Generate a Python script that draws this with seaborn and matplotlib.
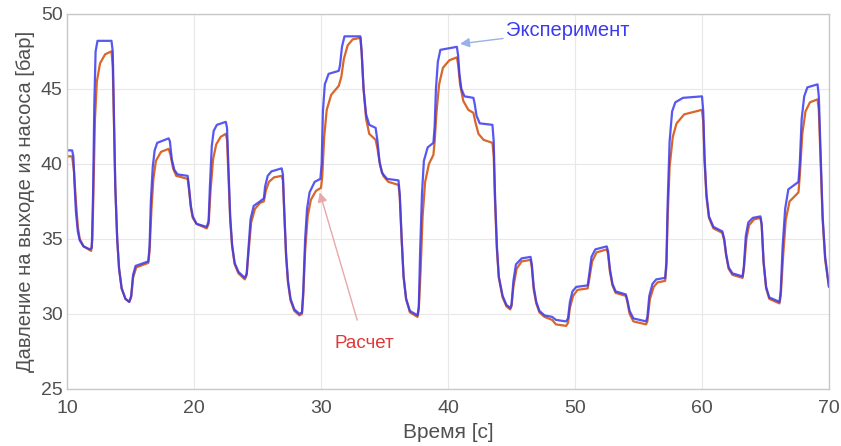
import pandas as pd
import matplotlib.pyplot as plt
import seaborn as sns

# Эксперимент (blue), breakpoints
exp_t = [10.0, 10.4, 10.5, 10.6, 10.7, 10.85, 11.0, 11.3, 11.8, 11.95, 12.05, 12.15, 12.25, 12.4, 13.5,
         13.6, 13.7, 13.8, 13.95, 14.1, 14.3, 14.6, 14.9, 15.05, 15.2, 15.4, 16.4, 16.5, 16.6, 16.75,
         16.9, 17.1, 18.0, 18.1, 18.25, 18.45, 18.7, 19.5, 19.6, 19.75, 19.9, 20.2, 21.0, 21.15, 21.25,
         21.4, 21.55, 21.8, 22.5, 22.6, 22.7, 22.85, 23.0, 23.2, 23.5, 24.0, 24.15, 24.3, 24.45, 24.7,
         25.2, 25.5, 25.6, 25.8, 26.1, 26.9, 27.0, 27.1, 27.25, 27.4, 27.6, 27.9, 28.3, 28.5, 28.6,
         28.75, 28.9, 29.1, 29.5, 29.95, 30.05, 30.15, 30.3, 30.6, 31.4, 31.5, 31.65, 31.85, 33.1,
         33.2, 33.35, 33.55, 33.8, 34.3, 34.45, 34.6, 34.8, 35.2, 36.1, 36.2, 36.35, 36.5, 36.7, 37.0,
         37.6, 37.7, 37.8, 37.95, 38.1, 38.4, 38.85, 38.95, 39.05, 39.2, 39.4, 40.7, 40.8, 40.9, 41.05,
         41.3, 42.0, 42.1, 42.25, 42.5, 43.5, 43.6, 43.7, 43.85, 44.0, 44.3, 44.6, 44.9, 45.0, 45.15,
         45.35, 45.8, 46.5, 46.6, 46.75, 46.95, 47.2, 47.6, 48.2, 48.5, 49.3, 49.45, 49.6, 49.8, 50.1,
         51.0, 51.1, 51.3, 51.6, 52.5, 52.6, 52.75, 52.95, 53.2, 54.0, 54.1, 54.3, 54.6, 55.6, 55.7,
         55.85, 56.1, 56.4, 57.1, 57.2, 57.3, 57.45, 57.65, 57.9, 58.5, 60.0, 60.1, 60.2, 60.35, 60.55,
         60.9, 61.6, 61.75, 61.9, 62.1, 62.4, 63.2, 63.3, 63.45, 63.65, 64.0, 64.6, 64.7, 64.85, 65.05,
         65.3, 66.1, 66.2, 66.35, 66.55, 66.8, 67.6, 67.7, 67.85, 68.05, 68.3, 69.1, 69.2, 69.35, 69.5,
         69.7, 70.0]
exp_p = [40.9, 40.9, 40.5, 38.5, 36.8, 35.5, 34.9, 34.5, 34.3, 34.4, 38.0, 44.0, 47.5, 48.2, 48.2,
         47.5, 43.0, 38.5, 35.0, 33.0, 31.7, 31.0, 30.8, 31.2, 32.6, 33.2, 33.5, 34.5, 37.5, 39.8,
         40.9, 41.4, 41.7, 41.5, 40.3, 39.6, 39.3, 39.2, 38.5, 37.2, 36.5, 36.0, 35.8, 36.2, 38.5,
         41.2, 42.2, 42.6, 42.8, 42.4, 40.0, 36.5, 34.6, 33.4, 32.8, 32.4, 32.7, 34.5, 36.3, 37.2,
         37.5, 37.7, 38.5, 39.2, 39.5, 39.7, 39.3, 37.0, 34.0, 32.2, 31.0, 30.3, 30.0, 30.1, 31.5,
         35.0, 37.0, 38.1, 38.8, 39.0, 40.0, 43.5, 45.3, 46.0, 46.2, 46.6, 47.8, 48.5, 48.5,
         47.5, 45.0, 43.3, 42.6, 42.4, 41.5, 40.2, 39.4, 39.0, 38.9, 38.0, 35.0, 32.5, 31.0, 30.2,
         29.9, 30.5, 34.0, 38.0, 40.2, 41.1, 41.4, 42.5, 45.0, 46.8, 47.6, 47.8, 47.2, 46.0, 45.0,
         44.5, 44.4, 44.0, 43.2, 42.7, 42.6, 41.5, 38.0, 34.5, 32.5, 31.2, 30.6, 30.4, 30.6, 32.2,
         33.3, 33.7, 33.8, 33.3, 31.8, 30.8, 30.2, 29.9, 29.8, 29.6, 29.5, 29.7, 30.8, 31.5, 31.8,
         31.9, 32.5, 33.8, 34.3, 34.5, 34.2, 33.0, 32.0, 31.5, 31.3, 31.0, 30.2, 29.7, 29.5, 29.8,
         31.2, 32.0, 32.3, 32.4, 33.5, 37.5, 41.5, 43.5, 44.1, 44.4, 44.5, 43.5, 40.5, 38.0, 36.5,
         35.8, 35.5, 35.0, 34.0, 33.1, 32.7, 32.5, 33.2, 35.2, 36.1, 36.4, 36.5, 36.0, 33.5, 31.8,
         31.1, 30.8, 31.5, 34.5, 37.0, 38.3, 38.8, 40.0, 43.0, 44.5, 45.1, 45.3, 44.5, 40.5, 36.5,
         33.8, 31.8]

# Расчет (red/orange)
calc_t = [10.0, 10.4, 10.55, 10.7, 10.85, 11.0, 11.3, 11.9, 12.0, 12.1, 12.2, 12.35, 12.6, 13.0, 13.5,
          13.6, 13.7, 13.8, 13.95, 14.1, 14.3, 14.6, 14.9, 15.05, 15.2, 15.45, 16.4, 16.5, 16.65, 16.8,
          17.0, 17.4, 18.0, 18.15, 18.35, 18.6, 19.5, 19.6, 19.75, 19.9, 20.2, 21.0, 21.15, 21.3, 21.5,
          21.75, 22.1, 22.5, 22.6, 22.7, 22.85, 23.0, 23.2, 23.5, 24.0, 24.15, 24.3, 24.5, 24.8, 25.2,
          25.5, 25.65, 25.9, 26.3, 26.9, 27.0, 27.1, 27.25, 27.4, 27.6, 27.9, 28.3, 28.5, 28.6, 28.75,
          28.95, 29.2, 29.6, 30.0, 30.1, 30.25, 30.45, 30.8, 31.4, 31.6, 31.8, 32.1, 32.5, 33.1, 33.2,
          33.35, 33.55, 33.8, 34.3, 34.45, 34.65, 34.9, 35.3, 36.1, 36.2, 36.35, 36.5, 36.7, 37.0, 37.6,
          37.7, 37.85, 38.0, 38.2, 38.5, 38.85, 38.95, 39.1, 39.3, 39.6, 40.1, 40.7, 40.8, 40.95, 41.2,
          41.6, 42.0, 42.15, 42.4, 42.8, 43.5, 43.6, 43.7, 43.85, 44.0, 44.3, 44.6, 44.9, 45.0, 45.15,
          45.4, 45.8, 46.5, 46.6, 46.75, 46.95, 47.2, 47.6, 48.2, 48.5, 49.3, 49.45, 49.6, 49.85, 50.2,
          51.0, 51.1, 51.35, 51.7, 52.5, 52.6, 52.75, 52.95, 53.2, 54.0, 54.1, 54.3, 54.6, 55.6, 55.7,
          55.9, 56.2, 56.5, 57.1, 57.2, 57.3, 57.45, 57.7, 58.0, 58.6, 60.0, 60.1, 60.2, 60.35, 60.55,
          60.9, 61.6, 61.75, 61.9, 62.1, 62.4, 63.2, 63.3, 63.5, 63.7, 64.1, 64.6, 64.7, 64.85, 65.05,
          65.3, 66.1, 66.2, 66.4, 66.6, 66.9, 67.6, 67.7, 67.9, 68.15, 68.5, 69.1, 69.2, 69.35, 69.5,
          69.7, 70.0]
calc_p = [40.5, 40.5, 39.5, 37.5, 35.8, 35.0, 34.5, 34.2, 35.0, 39.0, 43.0, 45.5, 46.7, 47.3, 47.5,
          46.5, 42.5, 38.5, 35.0, 33.0, 31.7, 31.0, 30.8, 31.1, 32.4, 33.1, 33.4, 34.2, 37.0, 39.0,
          40.2, 40.8, 41.0, 40.6, 39.7, 39.2, 39.0, 38.3, 37.1, 36.4, 36.0, 35.7, 36.0, 38.2, 40.3,
          41.3, 41.8, 42.0, 41.6, 39.5, 36.2, 34.5, 33.3, 32.7, 32.3, 32.6, 34.2, 36.1, 37.0, 37.4,
          37.5, 38.2, 38.8, 39.1, 39.2, 38.9, 36.8, 33.8, 32.1, 30.9, 30.2, 29.9, 30.0, 31.2, 34.2,
          36.5, 37.6, 38.2, 38.4, 39.2, 41.8, 43.6, 44.6, 45.2, 45.8, 47.0, 47.9, 48.3, 48.4, 47.4,
          45.0, 43.0, 42.0, 41.6, 41.0, 39.9, 39.2, 38.8, 38.6, 37.8, 35.0, 32.5, 31.0, 30.1, 29.8,
          30.3, 33.0, 36.5, 38.8, 40.0, 40.6, 41.5, 43.5, 45.3, 46.4, 46.9, 47.1, 46.6, 45.3, 44.2,
          43.6, 43.4, 42.8, 42.0, 41.6, 41.4, 40.5, 37.5, 34.3, 32.4, 31.1, 30.5, 30.3, 30.5, 31.8,
          33.0, 33.5, 33.6, 33.1, 31.6, 30.7, 30.1, 29.8, 29.6, 29.3, 29.2, 29.4, 30.4, 31.2, 31.6,
          31.7, 32.2, 33.5, 34.1, 34.3, 34.0, 32.8, 31.9, 31.4, 31.2, 30.9, 30.0, 29.5, 29.3, 29.5,
          31.0, 31.8, 32.1, 32.2, 33.2, 36.5, 39.8, 41.8, 42.7, 43.3, 43.6, 42.8, 40.2, 37.8, 36.4,
          35.7, 35.4, 34.9, 33.9, 33.0, 32.6, 32.4, 33.0, 35.0, 35.9, 36.3, 36.4, 35.9, 33.4, 31.7,
          31.0, 30.7, 31.2, 34.0, 36.3, 37.5, 38.1, 39.2, 42.0, 43.5, 44.1, 44.3, 43.6, 40.0, 36.3,
          33.6, 31.8]

x_ticks = [10, 20, 30, 40, 50, 60, 70]
y_ticks = [25, 30, 35, 40, 45, 50]

exp_df = pd.DataFrame({'t': exp_t, 'p': exp_p})
calc_df = pd.DataFrame({'t': calc_t, 'p': calc_p})

sns.set_style("whitegrid")
plt.rcParams['font.family'] = ['Liberation Sans', 'DejaVu Sans']

fig = plt.figure(figsize=(8.41, 4.46), dpi=100)
ax = fig.add_axes([0.0797, 0.128, 0.906, 0.841])

sns.lineplot(data=calc_df, x='t', y='p', ax=ax, color='#d9662a', linewidth=1.6,
             estimator=None, sort=False)
sns.lineplot(data=exp_df, x='t', y='p', ax=ax, color='#3a3af0', linewidth=1.6,
             estimator=None, sort=False, alpha=0.85)

ax.set_xlim(10, 70)
ax.set_ylim(25, 50)
ax.set_xticks(x_ticks)
ax.set_yticks(y_ticks)
ax.grid(True, color='#e8e8e8', linewidth=0.8)
for s in ax.spines.values():
    s.set_color('#c8c8c8')
    s.set_linewidth(1.0)
ax.tick_params(axis='both', labelsize=14, colors='#555555', direction='in', length=4)
ax.tick_params(axis='both', labelcolor='#505050')
ax.tick_params(axis='x', pad=8)
ax.tick_params(axis='y', pad=3)

ax.set_xlabel('Время [с]', fontsize=15, color='#505050', labelpad=4)
ax.set_ylabel('Давление на выходе из насоса [бар]', fontsize=14.5, color='#505050', labelpad=4)

# annotations
ax.annotate('Эксперимент', xy=(40.95, 48.0), xytext=(44.6, 48.9),
            color='#3a3af0', fontsize=14.5, va='center', ha='left',
            arrowprops=dict(arrowstyle='-|>', color='#9ab0e8', lw=1.0,
                            mutation_scale=14, shrinkA=0, shrinkB=0))
ax.annotate('Расчет', xy=(29.9, 38.1), xytext=(33.4, 28.0),
            color='#e03838', fontsize=13.5, va='center', ha='center',
            arrowprops=dict(arrowstyle='-|>', color='#e8a8a8', lw=1.0,
                            mutation_scale=14, shrinkA=9, shrinkB=0))

plt.savefig('out.png', dpi=100)
